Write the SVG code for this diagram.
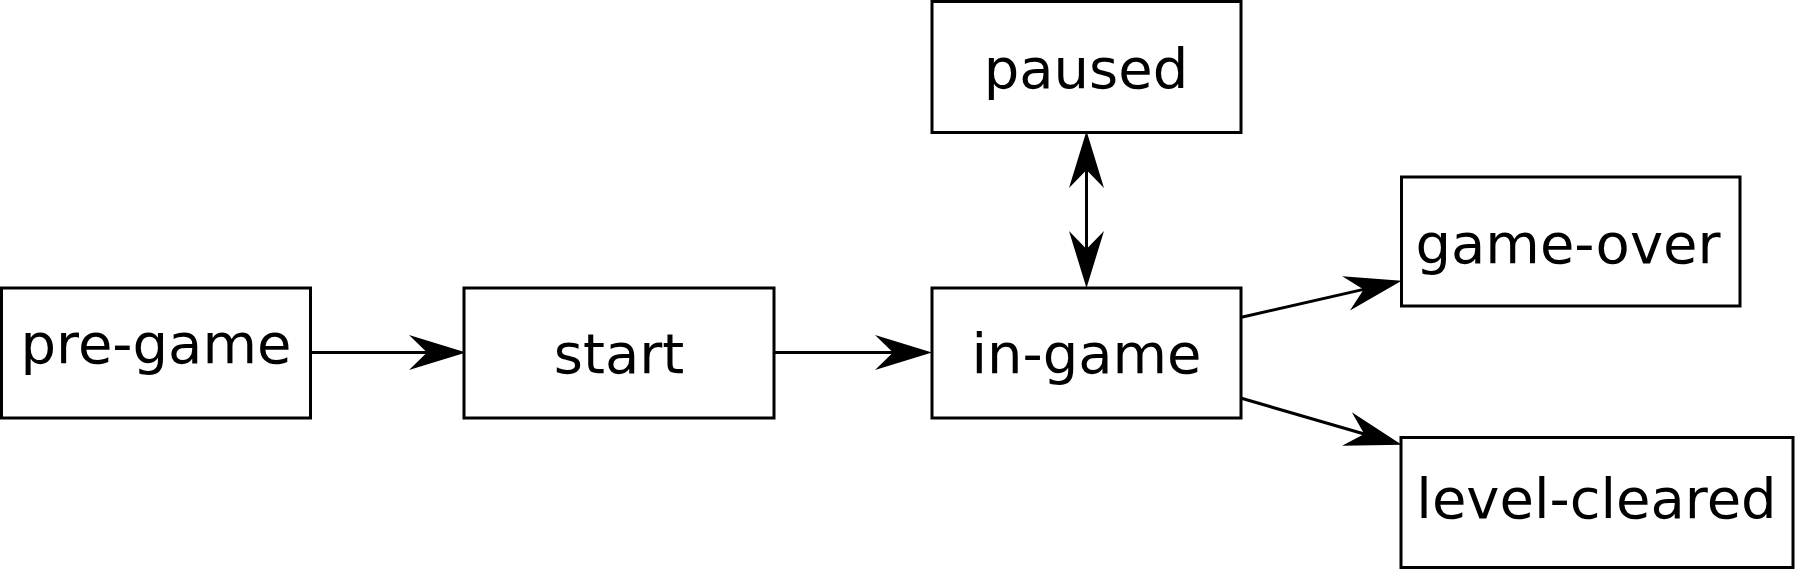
<svg xmlns="http://www.w3.org/2000/svg" width="1795" height="569" viewBox="0 0 1795 569">
<style>
.box{fill:#fff;stroke:#000;stroke-width:3}
.lbl{font-family:"DejaVu Sans",sans-serif;font-size:56px;fill:#000;text-anchor:middle}
.edge{fill:none;stroke:#000;stroke-width:3}
</style>
<defs>
<marker id="ah" markerUnits="userSpaceOnUse" viewBox="-58 -19 60 38" markerWidth="60" markerHeight="38" refX="-30" refY="0" orient="auto">
<path d="M0,0 L-57,-17.5 L-39,0 L-57,17.5 Z" fill="#000"/>
</marker>
<marker id="ahs" markerUnits="userSpaceOnUse" viewBox="-58 -19 60 38" markerWidth="60" markerHeight="38" refX="-30" refY="0" orient="auto-start-reverse">
<path d="M0,0 L-57,-17.5 L-39,0 L-57,17.5 Z" fill="#000"/>
</marker>
</defs>
<rect width="1795" height="569" fill="#fff"/>
<g id="connectors">
<line class="edge" x1="310" y1="352.5" x2="436" y2="352.5" marker-end="url(#ah)"/>
<line class="edge" x1="774" y1="352.5" x2="902" y2="352.5" marker-end="url(#ah)"/>
<line class="edge" x1="1086.5" y1="161" x2="1086.5" y2="258" marker-start="url(#ahs)" marker-end="url(#ah)"/>
<line class="edge" x1="1241.5" y1="317.3" x2="1372.4" y2="287.4" marker-end="url(#ah)"/>
<line class="edge" x1="1241.5" y1="398.3" x2="1372.9" y2="436.5" marker-end="url(#ah)"/>
</g>
<g id="pre-game">
<rect class="box" x="1.5" y="288" width="309" height="130"/>
<text class="lbl" x="156" y="363">pre-game</text>
</g>
<g id="start">
<rect class="box" x="464" y="288" width="310" height="130"/>
<text class="lbl" x="619" y="373">start</text>
</g>
<g id="in-game">
<rect class="box" x="932" y="288" width="309" height="130"/>
<text class="lbl" x="1086.5" y="373">in-game</text>
</g>
<g id="paused">
<rect class="box" x="932" y="1.5" width="309" height="131"/>
<text class="lbl" x="1086" y="87.5">paused</text>
</g>
<g id="game-over">
<rect class="box" x="1401.5" y="177" width="338.5" height="129"/>
<text class="lbl" x="1568" y="262.5">game-over</text>
</g>
<g id="level-cleared">
<rect class="box" x="1401" y="437.5" width="392" height="130"/>
<text class="lbl" x="1596.5" y="518">level-cleared</text>
</g>
</svg>
